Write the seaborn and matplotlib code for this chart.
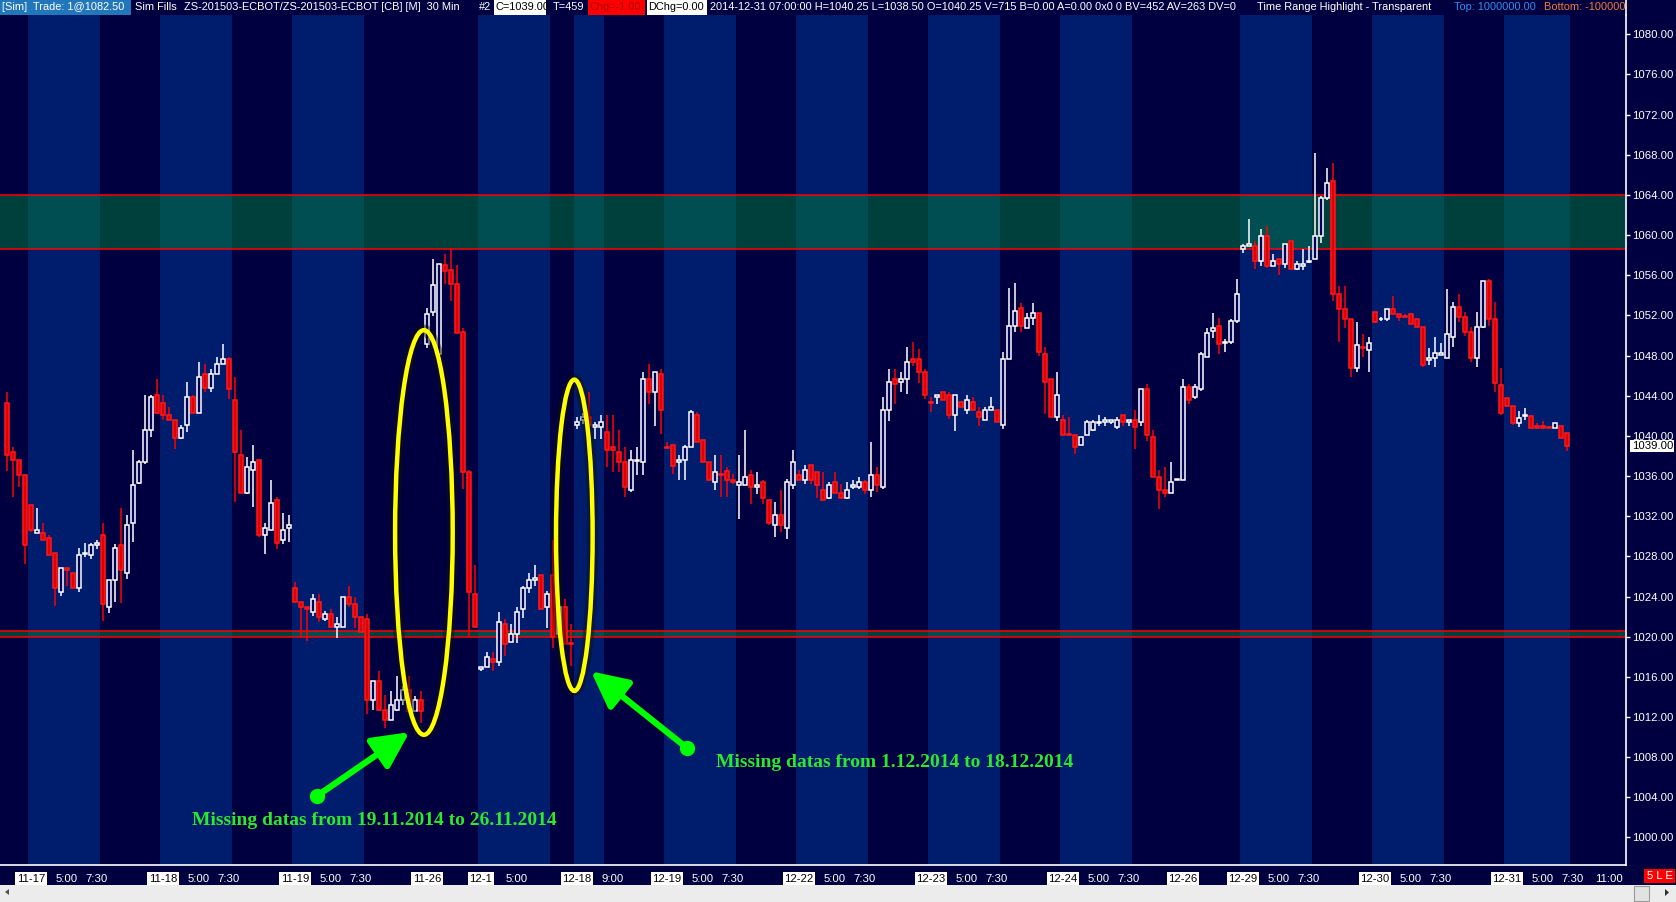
import numpy as np
import pandas as pd
import matplotlib
matplotlib.use("Agg")
import matplotlib.pyplot as plt
import matplotlib.patheffects as pe
import matplotlib.transforms as mtransforms
from matplotlib import font_manager as fm
from matplotlib.patches import Ellipse, Rectangle, Polygon
import seaborn as sns

# ZS-201503 30 min bars, 2014-11-14 .. 2014-12-31 (bar index = position on the chart)
opens = [
    1043.3, 1038.4, 1037.6, 1036.1, 1033.1, 1030.3, 1030.3, 1029.8, 1028.3, 1024.5,
    1026.8, 1026.3, 1024.8, 1028.2, 1028.1, 1029.1, 1030.1, 1023.0, 1025.6, 1029.1,
    1026.3, 1031.3, 1035.3, 1037.4, 1040.6, 1044.1, 1043.3, 1042.1, 1041.6, 1039.8,
    1041.1, 1043.9, 1042.3, 1046.2, 1044.8, 1046.2, 1047.2, 1047.7, 1043.6, 1038.1,
    1034.3, 1036.6, 1037.6, 1030.1, 1030.6, 1033.6, 1029.6, 1030.8, 1024.8, 1023.5,
    1023.0, 1022.5, 1023.5, 1021.8, 1022.3, 1021.0, 1021.0, 1024.0, 1023.3, 1022.0,
    1021.8, 1013.7, 1015.6, 1012.7, 1011.7, 1012.7, 1013.7, 1014.7, 1012.6, 1013.7,
    1049.2, 1052.3, 1048.2, 1057.0, 1056.5, 1055.1, 1050.3, 1036.4, 1024.3, 1016.8,
    1017.0, 1017.8, 1017.5, 1021.3, 1019.5, 1020.3, 1022.8, 1024.8, 1025.6, 1026.1,
    1023.0, 1026.1, 1020.3, 1023.0, 1019.4, 1041.1, 1041.6, 1041.9, 1040.9, 1040.9,
    1040.4, 1038.9, 1038.4, 1037.4, 1034.6, 1037.5, 1037.4, 1045.7, 1044.4, 1046.2,
    1038.9, 1039.1, 1037.4, 1037.6, 1038.9, 1042.1, 1039.6, 1037.4, 1035.4, 1036.2,
    1036.5, 1035.6, 1035.1, 1035.1, 1036.1, 1034.9, 1035.4, 1033.6, 1031.1, 1032.1,
    1030.8, 1035.1, 1036.1, 1035.6, 1037.1, 1036.4, 1034.6, 1033.8, 1035.4, 1034.3,
    1033.8, 1034.9, 1034.9, 1035.4, 1034.6, 1036.1, 1034.9, 1042.6, 1045.7, 1045.4,
    1045.7, 1047.7, 1047.7, 1046.4, 1043.4, 1043.9, 1044.4, 1044.1, 1042.1, 1043.4,
    1042.6, 1043.4, 1042.4, 1041.6, 1042.6, 1042.6, 1041.1, 1047.7, 1050.9, 1052.7,
    1050.7, 1051.7, 1052.2, 1048.2, 1045.7, 1041.9, 1041.6, 1040.2, 1040.1, 1039.1,
    1040.1, 1040.6, 1041.3, 1041.4, 1041.4, 1040.9, 1042.1, 1041.4, 1041.6, 1041.4,
    1044.7, 1039.9, 1035.9, 1034.6, 1034.3, 1035.6, 1035.6, 1044.9, 1043.9, 1044.7,
    1047.9, 1050.4, 1050.9, 1049.3, 1049.4, 1051.4, 1058.6, 1058.9, 1058.9, 1057.4,
    1059.9, 1056.9, 1057.6, 1057.1, 1059.4, 1056.6, 1056.9, 1057.35, 1057.6, 1059.9,
    1063.7, 1065.4, 1054.1, 1052.6, 1051.6, 1046.8, 1048.9, 1048.6, 1052.3, 1051.6,
    1051.6, 1052.6, 1052.1, 1051.9, 1052.1, 1051.6, 1050.8, 1047.6, 1047.8, 1048.1,
    1047.8, 1049.8, 1052.8, 1051.8, 1050.3, 1047.8, 1050.8, 1055.4, 1051.6, 1045.1,
    1043.8, 1043.0, 1041.3, 1042.0, 1042.0, 1041.0, 1041.0, 1040.9, 1040.8, 1041.0,
    1040.25]

highs = [
    1044.4, 1038.9, 1037.6, 1036.1, 1033.1, 1032.8, 1031.3, 1030.1, 1028.3, 1026.8,
    1026.8, 1026.3, 1028.8, 1029.3, 1029.3, 1029.6, 1031.3, 1025.6, 1029.2, 1032.8,
    1032.1, 1038.6, 1037.6, 1044.1, 1044.1, 1045.7, 1044.1, 1042.9, 1041.6, 1041.1,
    1045.4, 1044.1, 1047.4, 1047.2, 1046.7, 1047.9, 1049.2, 1047.9, 1045.9, 1040.6,
    1037.9, 1039.1, 1037.6, 1031.3, 1035.6, 1033.9, 1032.3, 1032.1, 1025.4, 1023.5,
    1023.0, 1024.3, 1024.3, 1022.6, 1022.8, 1022.0, 1024.0, 1025.0, 1024.0, 1022.0,
    1022.3, 1015.6, 1016.6, 1014.2, 1014.6, 1016.1, 1015.1, 1016.1, 1014.1, 1014.6,
    1052.7, 1057.6, 1057.1, 1058.1, 1058.6, 1057.0, 1050.7, 1036.6, 1027.1, 1017.0,
    1018.5, 1018.5, 1022.5, 1021.8, 1021.3, 1023.0, 1025.0, 1026.3, 1027.1, 1026.1,
    1024.6, 1029.6, 1023.0, 1023.8, 1021.3, 1041.9, 1042.3, 1044.4, 1041.4, 1042.1,
    1042.1, 1042.1, 1040.6, 1038.9, 1038.6, 1038.9, 1046.4, 1047.2, 1046.4, 1046.7,
    1039.4, 1039.1, 1038.1, 1039.1, 1042.6, 1042.4, 1039.6, 1037.4, 1038.1, 1038.1,
    1036.9, 1036.2, 1038.1, 1040.6, 1036.6, 1036.4, 1035.6, 1033.6, 1033.4, 1034.6,
    1035.7, 1038.6, 1036.6, 1037.1, 1037.1, 1036.4, 1036.4, 1035.4, 1036.4, 1035.2,
    1035.4, 1035.6, 1035.9, 1035.6, 1039.4, 1036.9, 1043.9, 1046.7, 1046.7, 1046.4,
    1048.9, 1049.4, 1048.7, 1046.7, 1043.9, 1044.1, 1044.4, 1044.4, 1044.1, 1043.4,
    1044.1, 1043.9, 1042.9, 1042.9, 1043.9, 1042.6, 1048.4, 1054.7, 1055.2, 1053.2,
    1052.2, 1053.2, 1052.2, 1048.9, 1045.7, 1046.4, 1042.1, 1041.9, 1040.1, 1039.9,
    1041.6, 1041.6, 1042.1, 1041.9, 1041.6, 1041.9, 1042.1, 1041.6, 1042.6, 1044.7,
    1045.2, 1040.6, 1036.6, 1036.9, 1037.4, 1035.6, 1045.7, 1045.2, 1045.2, 1048.4,
    1050.7, 1052.2, 1051.7, 1049.6, 1051.6, 1055.6, 1059.1, 1061.6, 1059.4, 1060.6,
    1060.9, 1058.1, 1057.6, 1059.1, 1059.4, 1057.4, 1058.6, 1058.9, 1068.2, 1063.9,
    1066.7, 1067.2, 1054.9, 1054.9, 1051.6, 1051.3, 1050.1, 1049.8, 1052.3, 1051.8,
    1052.6, 1053.9, 1052.1, 1052.1, 1052.1, 1051.6, 1050.8, 1048.8, 1049.8, 1049.3,
    1054.6, 1053.3, 1054.1, 1052.3, 1050.8, 1052.3, 1055.4, 1055.6, 1053.3, 1046.8,
    1043.8, 1043.0, 1042.5, 1042.8, 1042.0, 1041.3, 1041.5, 1041.0, 1041.3, 1041.0,
    1040.25]

lows = [
    1036.5, 1033.9, 1034.9, 1027.2, 1030.4, 1030.3, 1029.6, 1028.1, 1023.1, 1024.1,
    1025.0, 1024.8, 1024.5, 1027.9, 1027.7, 1028.7, 1021.6, 1022.4, 1023.5, 1023.4,
    1025.7, 1029.4, 1035.2, 1037.2, 1039.9, 1042.2, 1041.6, 1041.6, 1038.7, 1039.7,
    1040.4, 1042.3, 1042.3, 1044.4, 1044.4, 1046.2, 1047.2, 1043.7, 1033.4, 1034.3,
    1034.2, 1032.9, 1029.9, 1028.2, 1030.6, 1028.7, 1029.2, 1029.4, 1023.5, 1020.0,
    1019.6, 1022.1, 1021.5, 1021.6, 1021.0, 1019.9, 1021.0, 1023.0, 1020.9, 1020.5,
    1012.3, 1012.7, 1012.6, 1010.9, 1011.7, 1012.6, 1013.2, 1012.4, 1012.6, 1011.4,
    1048.8, 1051.9, 1048.2, 1055.1, 1053.4, 1050.2, 1034.7, 1020.0, 1021.0, 1016.6,
    1017.0, 1016.6, 1017.1, 1018.1, 1019.5, 1019.4, 1021.9, 1024.4, 1025.0, 1022.8,
    1020.9, 1018.9, 1019.9, 1019.3, 1017.1, 1040.7, 1041.2, 1041.1, 1039.7, 1039.7,
    1036.9, 1036.4, 1036.4, 1033.9, 1034.4, 1036.1, 1036.1, 1043.2, 1041.0, 1040.2,
    1038.8, 1036.2, 1035.6, 1035.6, 1038.9, 1039.4, 1037.4, 1035.6, 1034.6, 1033.9,
    1033.9, 1035.2, 1031.7, 1035.1, 1033.2, 1034.2, 1033.2, 1031.1, 1029.9, 1030.4,
    1029.7, 1034.7, 1035.6, 1035.2, 1035.2, 1033.8, 1033.6, 1033.7, 1034.3, 1033.8,
    1033.7, 1034.7, 1034.7, 1034.2, 1033.9, 1034.4, 1034.7, 1041.5, 1043.2, 1044.4,
    1044.2, 1047.0, 1045.3, 1043.7, 1042.4, 1043.2, 1043.6, 1041.7, 1040.5, 1042.9,
    1042.2, 1042.6, 1041.0, 1041.6, 1042.6, 1041.4, 1040.7, 1047.7, 1050.3, 1050.3,
    1050.7, 1051.0, 1048.0, 1042.2, 1041.9, 1041.5, 1040.1, 1040.1, 1038.2, 1039.1,
    1040.1, 1040.5, 1041.0, 1041.0, 1041.2, 1040.7, 1041.0, 1041.0, 1038.7, 1041.0,
    1039.5, 1035.9, 1032.7, 1033.9, 1034.3, 1035.6, 1035.6, 1043.2, 1043.7, 1044.5,
    1047.9, 1049.7, 1048.2, 1048.4, 1049.2, 1051.2, 1058.2, 1058.9, 1056.6, 1056.9,
    1056.7, 1056.9, 1056.0, 1056.7, 1056.6, 1056.5, 1056.5, 1057.2, 1057.6, 1059.2,
    1063.5, 1053.4, 1049.4, 1050.7, 1045.9, 1046.4, 1047.9, 1046.4, 1051.2, 1051.4,
    1051.4, 1052.1, 1051.4, 1051.8, 1051.1, 1050.8, 1046.9, 1047.1, 1046.9, 1048.1,
    1047.8, 1048.9, 1051.3, 1049.9, 1047.4, 1046.9, 1050.7, 1050.9, 1044.4, 1042.1,
    1042.9, 1041.1, 1040.9, 1041.6, 1040.8, 1040.8, 1040.8, 1040.8, 1040.8, 1039.8,
    1038.5]

closes = [
    1038.1, 1037.6, 1036.1, 1029.1, 1030.6, 1030.6, 1029.6, 1028.1, 1024.8, 1026.8,
    1026.6, 1024.8, 1028.1, 1028.3, 1029.1, 1029.3, 1023.3, 1025.6, 1028.8, 1026.6,
    1031.1, 1035.1, 1037.4, 1040.6, 1043.9, 1042.3, 1042.1, 1041.6, 1039.8, 1040.8,
    1043.9, 1042.3, 1045.9, 1044.8, 1046.2, 1047.2, 1047.7, 1044.7, 1038.4, 1034.3,
    1036.9, 1037.4, 1030.1, 1030.8, 1033.3, 1029.3, 1030.6, 1031.1, 1023.5, 1023.0,
    1022.8, 1023.8, 1022.0, 1022.3, 1021.0, 1021.3, 1024.0, 1023.3, 1022.0, 1020.5,
    1013.7, 1015.6, 1012.7, 1011.7, 1013.2, 1013.7, 1014.7, 1012.6, 1013.7, 1012.6,
    1052.1, 1055.0, 1057.1, 1056.4, 1055.1, 1050.2, 1036.4, 1024.5, 1021.0, 1017.0,
    1018.0, 1017.5, 1021.5, 1019.3, 1020.3, 1022.5, 1024.8, 1025.6, 1025.8, 1022.8,
    1024.3, 1020.0, 1023.0, 1019.3, 1019.3, 1041.4, 1041.9, 1041.1, 1041.1, 1041.4,
    1038.6, 1038.6, 1037.4, 1034.9, 1037.6, 1037.6, 1045.7, 1044.4, 1046.4, 1042.6,
    1038.8, 1037.0, 1037.6, 1038.9, 1042.4, 1039.4, 1037.4, 1035.6, 1036.4, 1036.1,
    1035.6, 1035.4, 1035.4, 1035.9, 1034.9, 1035.1, 1033.8, 1031.3, 1032.1, 1031.1,
    1035.4, 1037.4, 1035.6, 1036.6, 1035.6, 1035.1, 1033.6, 1035.1, 1034.3, 1033.8,
    1034.6, 1035.1, 1035.4, 1034.6, 1036.1, 1035.1, 1042.6, 1045.4, 1045.2, 1045.7,
    1047.4, 1047.4, 1046.4, 1044.1, 1043.3, 1044.1, 1043.6, 1042.1, 1044.1, 1042.9,
    1043.6, 1042.6, 1041.9, 1042.6, 1042.9, 1041.4, 1047.7, 1050.9, 1052.4, 1050.9,
    1051.7, 1052.2, 1048.4, 1045.4, 1041.9, 1044.1, 1040.1, 1040.1, 1038.9, 1039.9,
    1041.4, 1041.4, 1041.4, 1041.6, 1041.6, 1041.6, 1041.4, 1041.6, 1040.9, 1044.7,
    1040.1, 1035.9, 1034.6, 1034.3, 1035.4, 1035.6, 1044.9, 1043.6, 1044.9, 1048.2,
    1050.2, 1050.7, 1049.2, 1049.35, 1051.4, 1054.1, 1058.9, 1059.1, 1057.4, 1059.9,
    1056.9, 1057.4, 1057.1, 1059.1, 1056.6, 1057.1, 1057.1, 1057.4, 1059.9, 1063.7,
    1065.2, 1054.1, 1052.6, 1051.6, 1046.8, 1049.1, 1048.8, 1049.3, 1051.3, 1051.65,
    1052.6, 1052.1, 1051.8, 1051.8, 1051.1, 1050.8, 1047.1, 1047.8, 1048.3, 1048.3,
    1050.1, 1052.8, 1051.8, 1050.3, 1047.8, 1050.8, 1055.4, 1051.6, 1045.3, 1042.3,
    1043.0, 1041.3, 1041.8, 1042.05, 1040.8, 1040.8, 1040.8, 1040.8, 1041.3, 1039.8,
    1039.0]

# time range highlight (first / last bar of each highlighted block)
band_start = [4, 26, 48, 79, 95, 110, 132, 154, 176, 206, 228, 250]
band_end = [15, 37, 59, 90, 99, 121, 143, 165, 187, 217, 239, 260]

# horizontal zones (bottom, top)
zone_low = [1058.65, 1020.0]
zone_high = [1064.0, 1020.6]

tick_pos = [4, 10, 15, 26, 32, 37, 48, 54, 59, 70, 79, 85, 95, 101, 110, 116, 121,
            132, 138, 143, 154, 160, 165, 176, 182, 187, 196, 206, 212, 217,
            228, 234, 239, 250, 256, 261, 267]
tick_lab = ['11-17', '5:00', '7:30', '11-18', '5:00', '7:30', '11-19', '5:00', '7:30',
            '11-26', '12-1', '5:00', '12-18', '9:00', '12-19', '5:00', '7:30',
            '12-22', '5:00', '7:30', '12-23', '5:00', '7:30', '12-24', '5:00', '7:30',
            '12-26', '12-29', '5:00', '7:30', '12-30', '5:00', '7:30', '12-31',
            '5:00', '7:30', '11:00']

last_price = 1039.0

df = pd.DataFrame({'o': opens, 'h': highs, 'l': lows, 'c': closes})
df['bar'] = np.arange(len(df))
df['up'] = df['c'] >= df['o']
df['bottom'] = df[['o', 'c']].min(axis=1)
df['body'] = (df['c'] - df['o']).abs().clip(lower=0.06)

BG = '#000040'
BAND = '#001c6c'
W, H = 1676, 902

sns.set_theme(style='dark', rc={'axes.facecolor': BG, 'figure.facecolor': BG,
                                'axes.grid': False})
names = {f.name for f in fm.fontManager.ttflist}
ui_font = 'Liberation Sans' if 'Liberation Sans' in names else 'DejaVu Sans'
plt.rcParams['font.family'] = [ui_font, 'DejaVu Sans']
fs = 8.2 if ui_font == 'Liberation Sans' else 7
hfs = 7.9 if ui_font == 'Liberation Sans' else 6.8

fig = plt.figure(figsize=(W / 100, H / 100), dpi=100, facecolor=BG)
ax = fig.add_axes([0, (H - 865) / H, 1626 / W, 850 / H])
ax.set_facecolor(BG)
ax.set_xlim(-1.15, 269.85)
ax.set_ylim(997.26, 1081.92)

for s, e in zip(band_start, band_end):
    ax.axvspan(s - 0.5, e + 0.5, color=BAND, lw=0, zorder=0.5)

for lo, hi in zip(zone_low, zone_high):
    ax.axhspan(lo, hi, color='#00803a', alpha=0.5, lw=0, zorder=1)
    ax.axhline(lo, color='#ff0000', lw=1.1, zorder=1.2)
    ax.axhline(hi, color='#ff0000', lw=1.1, zorder=1.2)

up = df[df['up']]
dn = df[~df['up']]
ax.vlines(up['bar'], up['l'], up['h'], colors='white', lw=1.1, zorder=3)
ax.vlines(dn['bar'], dn['l'], dn['h'], colors='#ff0000', lw=1.1, zorder=3)
ax.bar(up['bar'], up['body'], bottom=up['bottom'], width=0.74, color='#00005a',
       edgecolor='white', linewidth=1.1, zorder=4)
ax.bar(dn['bar'], dn['body'], bottom=dn['bottom'], width=0.74, color='#e00000',
       edgecolor='#ff1a1a', linewidth=1.1, zorder=4)

for side in ['top', 'left']:
    ax.spines[side].set_visible(False)
for side in ['bottom', 'right']:
    ax.spines[side].set_color('white')
    ax.spines[side].set_linewidth(1.2)

yt = np.arange(1000, 1081, 4)
ax.yaxis.tick_right()
ax.set_yticks(yt)
ax.set_yticklabels([f'{v:.2f}' for v in yt])
ax.tick_params(axis='y', colors='white', length=3, width=1, pad=1.5,
               labelsize=fs, direction='out')
ax.set_xticks(tick_pos)
ax.set_xticklabels(tick_lab)
ax.tick_params(axis='x', colors='white', length=3.5, width=1, pad=3,
               labelsize=fs, direction='out')
for t in ax.get_xticklabels():
    if '-' in t.get_text():
        t.set_color('black')
        t.set_bbox(dict(facecolor='white', edgecolor='none', pad=1.2))

trans = mtransforms.blended_transform_factory(ax.transAxes, ax.transData)
ax.text(1.0035, last_price, f'{last_price:.2f}', transform=trans, ha='left',
        va='center', color='black', fontsize=fs, zorder=10, clip_on=False,
        bbox=dict(facecolor='white', edgecolor='none', pad=1.0))

# annotations
glow = [pe.Stroke(linewidth=8, foreground='#101010', alpha=0.45), pe.Normal()]
for cx, cy, w, h in [(69.5, 1030.38, 9.6, 40.3), (94.57, 1030.1, 6.1, 31.0)]:
    ell = Ellipse((cx, cy), w, h, fill=False, edgecolor='#ffff00', lw=3.2, zorder=6)
    ell.set_path_effects(glow)
    ax.add_patch(ell)

arrows = [((51.6, 1004.1), (67.1, 1010.49)), ((113.4, 1008.89), (97.35, 1016.55))]
for tail, head in arrows:
    ax.annotate('', xy=head, xytext=tail,
                arrowprops=dict(arrowstyle='-|>,head_length=1.1,head_width=0.55',
                                lw=4.5, color='#00ff00', mutation_scale=20,
                                shrinkA=0, shrinkB=0), zorder=7)
    ax.plot(*tail, 'o', ms=10, color='#00ff00', zorder=7)

note_font = dict(family=['Liberation Serif', 'DejaVu Serif'], weight='bold',
                 size=14, color='#2ee82e')
ax.text(61.2, 1001.74, 'Missing datas from 19.11.2014 to 26.11.2014',
        ha='center', va='center', zorder=7, **note_font)
ax.text(148.0, 1007.42, 'Missing datas from 1.12.2014 to 18.12.2014',
        ha='center', va='center', zorder=7, **note_font)

# header line
hax = fig.add_axes([0, 1 - 15 / H, 1626 / W, 15 / H])
hax.set_xlim(0, 1626)
hax.set_ylim(0, 15)
hax.axis('off')
for x0, x1, col in [(0, 131, '#2277bb'), (494, 546, 'white'), (588, 645, '#ff0000'),
                    (647, 707, 'white')]:
    hax.add_patch(Rectangle((x0, 0), x1 - x0, 15, color=col, lw=0))
header = [
    (2, '[Sim]  Trade: 1@1082.50', 'white'),
    (135, 'Sim Fills', 'white'),
    (184, 'ZS-201503-ECBOT/ZS-201503-ECBOT [CB] [M]  30 Min', 'white'),
    (479, '#2', 'white'),
    (495, 'C=1039.00', 'black'),
    (553, 'T=459', 'white'),
    (589, 'Chg=-1.00', '#b00000'),
    (648, 'DChg=0.00', 'black'),
    (710, '2014-12-31 07:00:00 H=1040.25 L=1038.50 O=1040.25 V=715 B=0.00 A=0.00 '
          '0x0 0 BV=452 AV=263 DV=0', 'white'),
    (1257, 'Time Range Highlight - Transparent', 'white'),
    (1454, 'Top: 1000000.00', '#2f8ff0'),
    (1544, 'Bottom: -1000000.00', '#f07a3c'),
]
for x, s, col in header:
    hax.text(x, 7.5, s, ha='left', va='center', color=col, fontsize=hfs, clip_on=True)
hax.axvline(1626, color='white', lw=1.2, clip_on=False)

# status box and scrollbar
fig.add_artist(Rectangle((1644 / W, 1 - 882.7 / H), 31 / W, 13.4 / H,
                         transform=fig.transFigure, fc='#ff0000', ec='none'))
fig.text(1659.5 / W, 1 - 876 / H, '5 L E', ha='center', va='center', color='white',
         fontsize=fs)
fig.add_artist(Rectangle((0, 0), 1, 17 / H, transform=fig.transFigure,
                         fc='#ececec', ec='none'))
fig.add_artist(Rectangle((1634 / W, 1.3 / H), 15 / W, 14.5 / H,
                         transform=fig.transFigure, fc='#e2e2e2', ec='#9a9a9a', lw=0.8))
fig.add_artist(Polygon([(5 / W, 1 - 892 / H), (9 / W, 1 - 889 / H), (9 / W, 1 - 895 / H)],
                       closed=True, transform=fig.transFigure, fc='#505050', ec='none'))
fig.add_artist(Polygon([(1665 / W, 1 - 889 / H), (1665 / W, 1 - 896 / H),
                        (1669 / W, 1 - 892.5 / H)],
                       closed=True, transform=fig.transFigure, fc='#303030', ec='none'))

fig.savefig('out.png', dpi=100, facecolor=BG)
